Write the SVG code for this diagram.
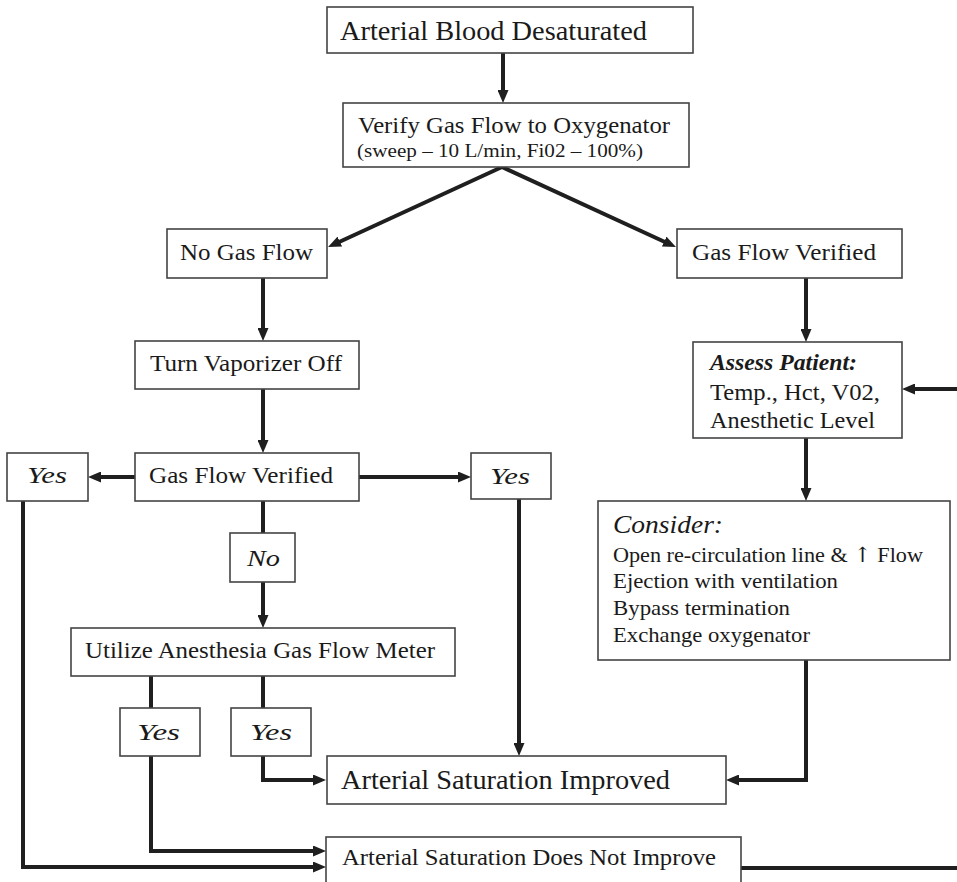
<svg xmlns="http://www.w3.org/2000/svg" width="957" height="882" viewBox="0 0 957 882">
<style>
.box{fill:#fff;stroke:#444;stroke-width:1.6}
.t{font-family:"Liberation Serif","Times New Roman",serif;fill:#1a1a1a}
.big{font-size:28px}
.mid{font-size:24px}
.sm{font-size:18px}
.li{font-size:21px}
.it{font-style:italic}
.c{fill:none;stroke:#1f1f1f;stroke-width:4}
</style>
<defs>
<marker id="ah" viewBox="0 0 13 11" markerWidth="13" markerHeight="11" markerUnits="userSpaceOnUse" refX="5" refY="5.5" orient="auto">
<path d="M0,0 L13,5.5 L0,11 z" fill="#1f1f1f"/>
</marker>
</defs>
<rect width="957" height="882" fill="#fff"/>

<g id="connectors">
<path class="c" d="M503,53 V95" marker-end="url(#ah)"/>
<path class="c" d="M502,167 L335.3,243.7" marker-end="url(#ah)"/>
<path class="c" d="M502,167 L668.7,243.7" marker-end="url(#ah)"/>
<path class="c" d="M263,278 V333" marker-end="url(#ah)"/>
<path class="c" d="M806,278 V334" marker-end="url(#ah)"/>
<path class="c" d="M263,389 V445" marker-end="url(#ah)"/>
<path class="c" d="M960,389 H910" marker-end="url(#ah)"/>
<path class="c" d="M135,477 H96" marker-end="url(#ah)"/>
<path class="c" d="M359,477 H463" marker-end="url(#ah)"/>
<path class="c" d="M263,501 V533"/>
<path class="c" d="M263,582 V620" marker-end="url(#ah)"/>
<path class="c" d="M806,438 V493" marker-end="url(#ah)"/>
<path class="c" d="M519,499 V748" marker-end="url(#ah)"/>
<path class="c" d="M151,676 V708"/>
<path class="c" d="M263,676 V708"/>
<path class="c" d="M263,756 V780 H318" marker-end="url(#ah)"/>
<path class="c" d="M806,660 V780 H734" marker-end="url(#ah)"/>
<path class="c" d="M151,756 V851 H318" marker-end="url(#ah)"/>
<path class="c" d="M23,501 V867 H318" marker-end="url(#ah)"/>
<path class="c" d="M741,868 H960"/>
</g>

<g id="n-desat">
<rect class="box" x="327" y="7" width="366" height="46"/>
<text class="t big" x="340" y="40" textLength="307" lengthAdjust="spacingAndGlyphs">Arterial Blood Desaturated</text>
</g>
<g id="n-verify">
<rect class="box" x="343" y="103" width="346" height="64"/>
<text class="t mid" x="358" y="133" textLength="312" lengthAdjust="spacingAndGlyphs">Verify Gas Flow to Oxygenator</text>
<text class="t sm" x="357" y="157" textLength="286" lengthAdjust="spacingAndGlyphs">(sweep – 10 L/min, Fi02 – 100%)</text>
</g>
<g id="n-nogas">
<rect class="box" x="167" y="229" width="160" height="49"/>
<text class="t mid" x="180" y="260" textLength="133" lengthAdjust="spacingAndGlyphs">No Gas Flow</text>
</g>
<g id="n-gasver-r">
<rect class="box" x="677" y="229" width="225" height="49"/>
<text class="t mid" x="692" y="260" textLength="184" lengthAdjust="spacingAndGlyphs">Gas Flow Verified</text>
</g>
<g id="n-vapor">
<rect class="box" x="135" y="341" width="224" height="48"/>
<text class="t mid" x="150" y="371" textLength="192" lengthAdjust="spacingAndGlyphs">Turn Vaporizer Off</text>
</g>
<g id="n-assess">
<rect class="box" x="693" y="342" width="209" height="96"/>
<text class="t mid it" x="710" y="370" font-weight="bold" textLength="147" lengthAdjust="spacingAndGlyphs">Assess Patient:</text>
<text class="t mid" x="710" y="400" textLength="170" lengthAdjust="spacingAndGlyphs">Temp., Hct, V02,</text>
<text class="t mid" x="710" y="428" textLength="165" lengthAdjust="spacingAndGlyphs">Anesthetic Level</text>
</g>
<g id="n-gasver-m">
<rect class="box" x="135" y="453" width="224" height="48"/>
<text class="t mid" x="149" y="483" textLength="184" lengthAdjust="spacingAndGlyphs">Gas Flow Verified</text>
</g>
<g id="n-yes-l">
<rect class="box" x="7" y="453" width="81" height="48"/>
<text class="t mid it" x="27" y="483" textLength="40" lengthAdjust="spacingAndGlyphs">Yes</text>
</g>
<g id="n-yes-r">
<rect class="box" x="471" y="453" width="80" height="46"/>
<text class="t mid it" x="490" y="484" textLength="40" lengthAdjust="spacingAndGlyphs">Yes</text>
</g>
<g id="n-no">
<rect class="box" x="230" y="533" width="65" height="49"/>
<text class="t mid it" x="247" y="566" textLength="33" lengthAdjust="spacingAndGlyphs">No</text>
</g>
<g id="n-consider">
<rect class="box" x="598" y="501" width="352" height="159"/>
<text class="t mid it" x="613" y="533" style="font-size:26px" textLength="110" lengthAdjust="spacingAndGlyphs">Consider:</text>
<text class="t li" x="613" y="562" textLength="310" lengthAdjust="spacingAndGlyphs">Open re-circulation line &amp; <tspan font-family="DejaVu Serif" style="font-family:'DejaVu Serif',serif">↑</tspan> Flow</text>
<text class="t li" x="613" y="588" textLength="225" lengthAdjust="spacingAndGlyphs">Ejection with ventilation</text>
<text class="t li" x="613" y="615" textLength="177" lengthAdjust="spacingAndGlyphs">Bypass termination</text>
<text class="t li" x="613" y="642" textLength="197" lengthAdjust="spacingAndGlyphs">Exchange oxygenator</text>
</g>
<g id="n-utilize">
<rect class="box" x="71" y="628" width="384" height="48"/>
<text class="t mid" x="85" y="658" textLength="350" lengthAdjust="spacingAndGlyphs">Utilize Anesthesia Gas Flow Meter</text>
</g>
<g id="n-yes-1">
<rect class="box" x="120" y="708" width="80" height="48"/>
<text class="t mid it" x="137" y="740" textLength="43" lengthAdjust="spacingAndGlyphs">Yes</text>
</g>
<g id="n-yes-2">
<rect class="box" x="231" y="708" width="80" height="48"/>
<text class="t mid it" x="250" y="740" textLength="42" lengthAdjust="spacingAndGlyphs">Yes</text>
</g>
<g id="n-improved">
<rect class="box" x="327" y="756" width="399" height="48"/>
<text class="t big" x="341" y="789" textLength="329" lengthAdjust="spacingAndGlyphs">Arterial Saturation Improved</text>
</g>
<g id="n-notimprove">
<rect class="box" x="326" y="837" width="415" height="60"/>
<text class="t mid" x="342" y="865" textLength="374" lengthAdjust="spacingAndGlyphs">Arterial Saturation Does Not Improve</text>
</g>
</svg>
